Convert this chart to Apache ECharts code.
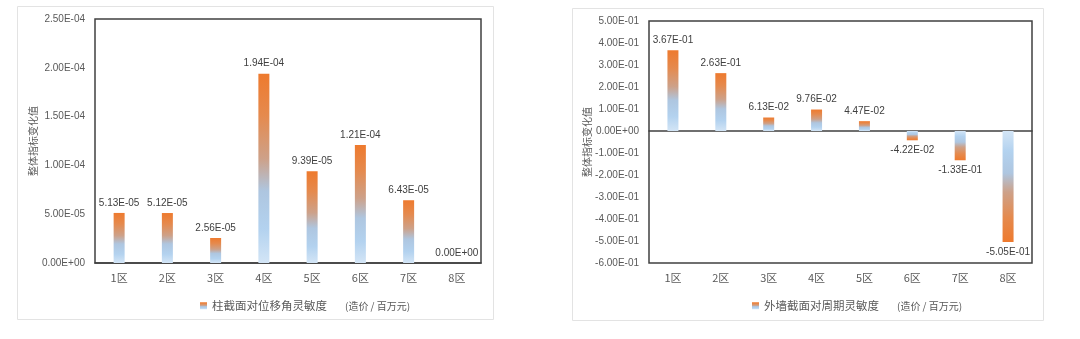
<!DOCTYPE html>
<html>
<head>
<meta charset="utf-8">
<script src="https://cdn.jsdelivr.net/npm/echarts@6/dist/echarts.min.js"></script>
<style>
  html, body { margin: 0; padding: 0; background: #ffffff; }
  #chart { width: 1080px; height: 339px; }
</style>
</head>
<body>
<div id="chart"></div>
<script>
// Zones along the x axis (shared by both panels)
const zones = ['1区', '2区', '3区', '4区', '5区', '6区', '7区', '8区'];

// Left panel: column section vs. drift-angle sensitivity
const columnName = '柱截面对位移角灵敏度';
const columnValues = [5.13e-5, 5.12e-5, 2.56e-5, 1.94e-4, 9.39e-5, 1.21e-4, 6.43e-5, 0];
const columnTicks = [0, 5e-5, 1e-4, 1.5e-4, 2e-4, 2.5e-4];

// Right panel: exterior wall section vs. period sensitivity
const wallName = '外墙截面对周期灵敏度';
const wallValues = [0.367, 0.263, 0.0613, 0.0976, 0.0447, -0.0422, -0.133, -0.505];
const wallTicks = [-0.6, -0.5, -0.4, -0.3, -0.2, -0.1, 0, 0.1, 0.2, 0.3, 0.4, 0.5];

const axisTitle = '整体指标变化值';
const unitText = '(造价 / 百万元)';

const NUM_FONT = '"Liberation Sans", "Noto Sans CJK SC", sans-serif';
const CJK_FONT = '"Noto Sans CJK SC", "Liberation Sans", sans-serif';

// Excel-style "0.00E+00" number format
function sci(v) {
  if (v === 0) return '0.00E+00';
  const s = Math.abs(v).toExponential(2);
  const [m, e] = s.split('e');
  const ev = parseInt(e, 10);
  const ee = (ev < 0 ? '-' : '+') + String(Math.abs(ev)).padStart(2, '0');
  return (v < 0 ? '-' : '') + m + 'E' + ee;
}

// Bar fill: orange at the bar's end, fading to pale blue at the baseline
const stops = [
  { offset: 0, color: '#EE7A2E' },
  { offset: 0.22, color: '#E58A4E' },
  { offset: 0.45, color: '#CDA189' },
  { offset: 0.62, color: '#AEC6E0' },
  { offset: 0.82, color: '#B3D2EF' },
  { offset: 1, color: '#D3E5F6' }
];
function grad(reverse) {
  const cs = stops.map(s => ({ offset: reverse ? 1 - s.offset : s.offset, color: s.color }));
  cs.sort((a, b) => a.offset - b.offset);
  return new echarts.graphic.LinearGradient(0, 0, 0, 1, cs);
}
function barData(values) {
  return values.map(v => ({
    value: v,
    itemStyle: { color: grad(v < 0) },
    label: { position: v < 0 ? 'bottom' : 'top' }
  }));
}

const chart = echarts.init(document.getElementById('chart'), null, { renderer: 'canvas' });

function yAxisCfg(gridIndex, ticks) {
  return {
    type: 'value',
    gridIndex,
    min: ticks[0],
    max: ticks[ticks.length - 1],
    interval: ticks[1] - ticks[0],
    name: axisTitle,
    nameLocation: 'middle',
    nameRotate: 90,
    nameGap: 57,
    nameMoveOverlap: false,
    nameTextStyle: { color: '#595959', fontSize: 10, fontFamily: CJK_FONT },
    axisLine: { show: false },
    axisTick: { show: false },
    splitLine: { show: false },
    axisLabel: {
      margin: 10,
      color: '#595959',
      fontSize: 10,
      fontFamily: NUM_FONT,
      formatter: v => sci(Math.round(v * 1e8) / 1e8)
    }
  };
}
function xAxisCfg(gridIndex) {
  return {
    type: 'category',
    gridIndex,
    data: zones,
    axisLine: { show: true, onZero: true, lineStyle: { color: '#404040', width: 1.5 } },
    axisTick: { show: false },
    axisLabel: { margin: 9, color: '#595959', fontSize: 11, fontFamily: CJK_FONT }
  };
}
function legendCfg(name, left) {
  return {
    data: [name],
    left,
    top: 295,
    itemWidth: 7,
    itemHeight: 7,
    itemGap: 3,
    icon: 'rect',
    formatter: n => n + '{u|' + unitText + '}',
    textStyle: {
      color: '#595959',
      fontSize: 11.5,
      fontFamily: CJK_FONT,
      rich: { u: { fontSize: 10, color: '#595959', fontFamily: CJK_FONT, padding: [0, 0, 0, 18] } }
    }
  };
}
function seriesCfg(name, idx, values) {
  return {
    name,
    type: 'bar',
    xAxisIndex: idx,
    yAxisIndex: idx,
    barWidth: 11,
    data: barData(values),
    itemStyle: { color: grad(false) },
    label: {
      show: true,
      distance: 5,
      color: '#404040',
      fontSize: 10,
      fontFamily: NUM_FONT,
      formatter: p => sci(p.value)
    }
  };
}

chart.setOption({
  backgroundColor: '#ffffff',
  animation: false,
  graphic: [
    { type: 'rect', shape: { x: 17.5, y: 6.5, width: 476, height: 313 }, style: { fill: 'none', stroke: '#E3E3E3', lineWidth: 1 }, silent: true },
    { type: 'rect', shape: { x: 572.5, y: 8.5, width: 471, height: 312 }, style: { fill: 'none', stroke: '#E3E3E3', lineWidth: 1 }, silent: true }
  ],
  grid: [
    { left: 95, top: 19, width: 386, height: 244, show: true, borderColor: '#404040', borderWidth: 1.5, backgroundColor: 'transparent' },
    { left: 649, top: 21, width: 383, height: 242, show: true, borderColor: '#404040', borderWidth: 1.5, backgroundColor: 'transparent' }
  ],
  legend: [legendCfg(columnName, 195), legendCfg(wallName, 747)],
  xAxis: [xAxisCfg(0), xAxisCfg(1)],
  yAxis: [yAxisCfg(0, columnTicks), yAxisCfg(1, wallTicks)],
  series: [seriesCfg(columnName, 0, columnValues), seriesCfg(wallName, 1, wallValues)]
});
</script>
</body>
</html>
